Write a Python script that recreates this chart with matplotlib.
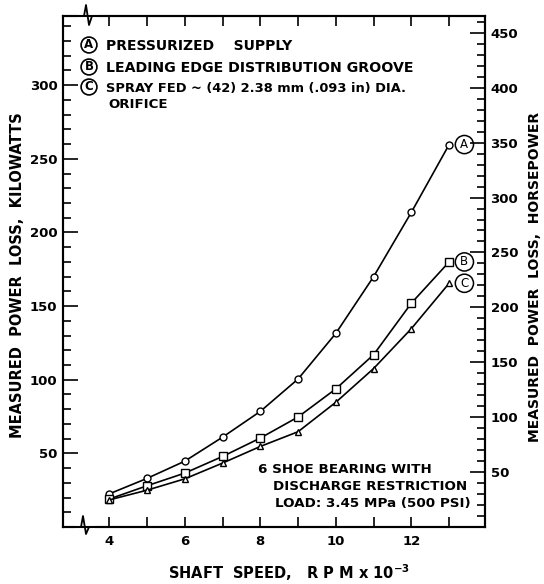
import numpy as np
import matplotlib.pyplot as plt
from matplotlib.ticker import MultipleLocator

# Shaft speed, RPM x 10^-3
speed = [4, 5, 6, 7, 8, 9, 10, 11, 12, 13]

# Measured power loss in kW for each configuration
pressurized = [22.5, 33, 44.7, 61, 78.5, 100.5, 131.5, 170, 213.7, 259.7]
leading_edge = [19, 28, 36.6, 47.9, 60.4, 74.7, 93.8, 117, 152, 180]
spray_fed = [18.4, 25, 32.7, 43.4, 54.7, 64.7, 84.7, 107.6, 134.7, 165.5]

KW_TO_HP = 1.341

legend_lines = ["PRESSURIZED    SUPPLY",
                "LEADING EDGE DISTRIBUTION GROOVE",
                "SPRAY FED ~ (42) 2.38 mm (.093 in) DIA."]
note = ["6 SHOE BEARING WITH", "DISCHARGE RESTRICTION", "LOAD: 3.45 MPa (500 PSI)"]

plt.rcParams['font.family'] = 'DejaVu Sans'
plt.rcParams['font.weight'] = 'bold'

W, H = 544, 584
fig = plt.figure(figsize=(W / 100, H / 100), dpi=100)
ax = fig.add_axes([63 / W, 1 - 527 / H, 422 / W, 511 / H])


def axfrac(px, py):
    # pixel position -> axes fraction
    return (px - 63) / 422, (527 - py) / 511


ax.plot(speed, pressurized, '-o', color='black', lw=1.2, ms=5,
        mfc='white', mec='black', mew=1.0)
ax.plot(speed, leading_edge, '-s', color='black', lw=1.2, ms=5.5,
        mfc='white', mec='black', mew=1.0)
ax.plot(speed, spray_fed, '-^', color='black', lw=1.2, ms=5,
        mfc='white', mec='black', mew=1.0)

# circled letters at line ends
circ = dict(boxstyle='circle,pad=0.22', fc='white', ec='black', lw=1.1)
for letter, vals in zip("ABC", [pressurized, leading_edge, spray_fed]):
    ax.annotate(letter, xy=(speed[-1], vals[-1]), xytext=(11, 0),
                textcoords='offset points', ha='center', va='center',
                fontsize=8.5, fontweight='normal', bbox=circ, zorder=7)

ax.set_xlim(2.775, 13.95)
ax.set_ylim(0, 347)

ax.set_xticks([4, 5, 6, 7, 8, 9, 10, 11, 12, 13])
ax.set_xticklabels(['4', '', '6', '', '8', '', '10', '', '12', ''])
ax.set_yticks([50, 100, 150, 200, 250, 300])
ax.yaxis.set_minor_locator(MultipleLocator(10))

ax.tick_params(axis='x', direction='in', length=7, width=1.2, top=True,
               labelsize=9.5, pad=6)
ax.tick_params(axis='y', which='major', direction='in', length=11, width=1.2,
               labelsize=9.5, pad=4)
ax.tick_params(axis='y', which='minor', direction='in', length=6, width=1.2)

ax2 = ax.twinx()
ax2.set_ylim(0, 347 * KW_TO_HP)
ax2.set_yticks([50, 100, 150, 200, 250, 300, 350, 400, 450])
ax2.yaxis.set_minor_locator(MultipleLocator(10))
ax2.tick_params(axis='y', which='major', direction='in', length=11, width=1.2,
                labelsize=9.5, pad=4)
ax2.tick_params(axis='y', which='minor', direction='in', length=6, width=1.2)

for a in (ax, ax2):
    for s in a.spines.values():
        s.set_linewidth(1.5)

# axis titles
fig.text(18 / W, 1 - 275 / H, "MEASURED  POWER  LOSS,  KILOWATTS",
         rotation=90, ha='center', va='center', fontsize=10.5, fontweight='bold')
fig.text(535 / W, 1 - 277 / H, "MEASURED  POWER  LOSS,  HORSEPOWER",
         rotation=90, ha='center', va='center', fontsize=10, fontweight='bold')
fig.text(289 / W, 1 - 573 / H,
         r"SHAFT  SPEED,   R P M $\mathbf{x}$ 10$^{\mathbf{-3}}$",
         ha='center', va='center', fontsize=10.5, fontweight='bold')

# axis break marks on top and bottom spines
for (x0, x1, ytop), zz in [((80, 96, 16), [(80, 16), (84, 16), (86, 5), (89, 25), (92, 16), (96, 16)]),
                           ((77, 93, 527), [(77, 527), (81, 527), (83, 516), (86, 534), (89, 527), (93, 527)])]:
    px0, py0 = axfrac(x0, ytop)
    px1, _ = axfrac(x1, ytop)
    ax.plot([px0, px1], [py0, py0], transform=ax.transAxes, color='white',
            lw=3, clip_on=False, zorder=5)
    zx, zy = zip(*[axfrac(p, q) for p, q in zz])
    ax.plot(zx, zy, transform=ax.transAxes, color='black', lw=1.3,
            clip_on=False, zorder=6)

# legend block top-left
circ2 = dict(boxstyle='circle,pad=0.12', fc='white', ec='black', lw=1.2)
leg_y = [45, 67, 87]
leg_size = [10, 10.2, 9.4]
for letter, txt, py, fs in zip("ABC", legend_lines, leg_y, leg_size):
    cx, cy = axfrac(89, py)
    ax.text(cx, cy, letter, transform=ax.transAxes, ha='center', va='center',
            fontsize=8.5, fontweight='bold', bbox=circ2)
    tx, ty = axfrac(106, py + 5)
    ax.text(tx, ty, txt, transform=ax.transAxes, ha='left', va='baseline',
            fontsize=fs, fontweight='bold')
tx, ty = axfrac(108, 108)
ax.text(tx, ty, "ORIFICE", transform=ax.transAxes, ha='left', va='baseline',
        fontsize=9.6, fontweight='bold')

# note bottom-right
for txt, (px, py) in zip(note, [(258, 473), (273, 490), (275, 507)]):
    tx, ty = axfrac(px, py)
    ax.text(tx, ty, txt, transform=ax.transAxes, ha='left', va='baseline',
            fontsize=9.7, fontweight='bold')

fig.savefig('out.png', dpi=100)
